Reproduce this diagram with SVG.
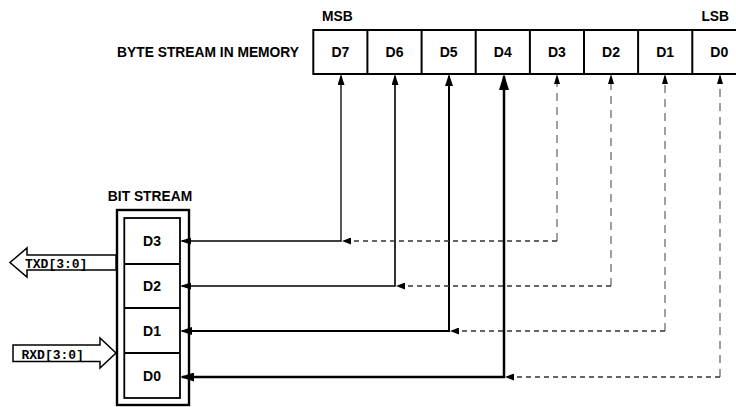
<svg xmlns="http://www.w3.org/2000/svg" width="736" height="407" viewBox="0 0 736 407">
<style>
text{font-family:"Liberation Sans",Arial,sans-serif;font-weight:bold;fill:#000}
.lbl{font-size:13.8px}
.cell{font-size:14px;text-anchor:middle}
.mono{font-family:"Liberation Mono","Courier New",monospace;font-size:13px;font-weight:bold}
.box{fill:#fff;stroke:#000;stroke-width:2}
.sol{fill:none;stroke:#000}
.dv{fill:none;stroke:#808080;stroke-width:1.5;stroke-dasharray:8 6}
.dh{fill:none;stroke:#333;stroke-width:1.5;stroke-dasharray:5 4}
.bus{fill:#fff;stroke:#000;stroke-width:1.5}
</style>
<defs>
<marker id="aT" viewBox="0 0 10 10" refX="8.2" refY="5" markerWidth="11" markerHeight="7" markerUnits="userSpaceOnUse" orient="auto-start-reverse" preserveAspectRatio="none"><path d="M0,0L10,5L0,10z" fill="#000"/></marker>
<marker id="aM" viewBox="0 0 10 10" refX="8.4" refY="5" markerWidth="12" markerHeight="8" markerUnits="userSpaceOnUse" orient="auto-start-reverse" preserveAspectRatio="none"><path d="M0,0L10,5L0,10z" fill="#000"/></marker>
<marker id="aL" viewBox="0 0 10 10" refX="8.6" refY="5" markerWidth="14" markerHeight="9" markerUnits="userSpaceOnUse" orient="auto-start-reverse" preserveAspectRatio="none"><path d="M0,0L10,5L0,10z" fill="#000"/></marker>
<marker id="aXL" viewBox="0 0 10 10" refX="8.8" refY="5" markerWidth="16" markerHeight="10" markerUnits="userSpaceOnUse" orient="auto-start-reverse" preserveAspectRatio="none"><path d="M0,0L10,5L0,10z" fill="#000"/></marker>
<marker id="aD" viewBox="0 0 10 10" refX="8" refY="5" markerWidth="10" markerHeight="6" markerUnits="userSpaceOnUse" orient="auto" preserveAspectRatio="none"><path d="M0,0L10,5L0,10z" fill="#000"/></marker>
<marker id="aDH" viewBox="0 0 10 10" refX="7.8" refY="5" markerWidth="9" markerHeight="7" markerUnits="userSpaceOnUse" orient="auto" preserveAspectRatio="none"><path d="M0,0L10,5L0,10z" fill="#000"/></marker>
</defs>

<g id="byte-stream">
<text class="lbl" x="299" y="57" text-anchor="end">BYTE STREAM IN MEMORY</text>
<text class="lbl" x="322" y="21">MSB</text>
<text class="lbl" x="729" y="21" text-anchor="end">LSB</text>
<rect class="box" x="313.3" y="30" width="433" height="44"/>
<path d="M367.4,30V74M421.6,30V74M475.7,30V74M529.9,30V74M584,30V74M638.1,30V74M692.3,30V74" stroke="#000" stroke-width="2" fill="none"/>
<text class="cell" x="340.4" y="57">D7</text>
<text class="cell" x="394.5" y="57">D6</text>
<text class="cell" x="448.6" y="57">D5</text>
<text class="cell" x="502.8" y="57">D4</text>
<text class="cell" x="556.9" y="57">D3</text>
<text class="cell" x="611" y="57">D2</text>
<text class="cell" x="665.2" y="57">D1</text>
<text class="cell" x="719.3" y="57">D0</text>
</g>

<g id="bit-stream">
<text class="lbl" x="150" y="201" text-anchor="middle">BIT STREAM</text>
<rect x="117" y="210" width="72" height="195" fill="#fff" stroke="#000" stroke-width="2.4"/>
<rect x="124.3" y="218" width="55.7" height="180" fill="#fff" stroke="#000" stroke-width="1.8"/>
<path d="M124.3,264H180M124.3,308H180M124.3,353H180" stroke="#000" stroke-width="1.8" fill="none"/>
<text class="cell" x="152" y="246">D3</text>
<text class="cell" x="152" y="291">D2</text>
<text class="cell" x="152" y="335.5">D1</text>
<text class="cell" x="152" y="380.5">D0</text>
</g>

<g id="txd">
<polygon class="bus" points="116,255 27,255 27,248 10,262.5 27,277 27,270 116,270"/>
<text class="mono" x="25" y="268">TXD[3:0]</text>
</g>
<g id="rxd">
<polygon class="bus" points="13,345 100,345 100,338 116,353 100,368 100,361.5 13,361.5"/>
<text class="mono" x="21.5" y="359">RXD[3:0]</text>
</g>

<g id="connectors">
<path class="sol" stroke-width="1.3" d="M182,241H341V76" marker-start="url(#aT)" marker-end="url(#aT)"/>
<path class="sol" stroke-width="1.6" d="M182,286H395V76" marker-start="url(#aT)" marker-end="url(#aT)"/>
<path class="sol" stroke-width="2" d="M182,331H449V76" marker-start="url(#aM)" marker-end="url(#aM)"/>
<path class="sol" stroke-width="2.5" d="M182,377H504V76" marker-start="url(#aL)" marker-end="url(#aXL)"/>

<path class="dv" d="M557,241V76" marker-end="url(#aD)"/>
<path class="dv" d="M611,286V76" marker-end="url(#aD)"/>
<path class="dv" d="M665,331V76" marker-end="url(#aD)"/>
<path class="dv" d="M720,377V76" marker-end="url(#aD)"/>

<path class="dh" d="M557,241H344" marker-end="url(#aDH)"/>
<path class="dh" d="M611,286H398" marker-end="url(#aDH)"/>
<path class="dh" d="M665,331H452" marker-end="url(#aDH)"/>
<path class="dh" d="M720,377H507" marker-end="url(#aDH)"/>
</g>
</svg>
